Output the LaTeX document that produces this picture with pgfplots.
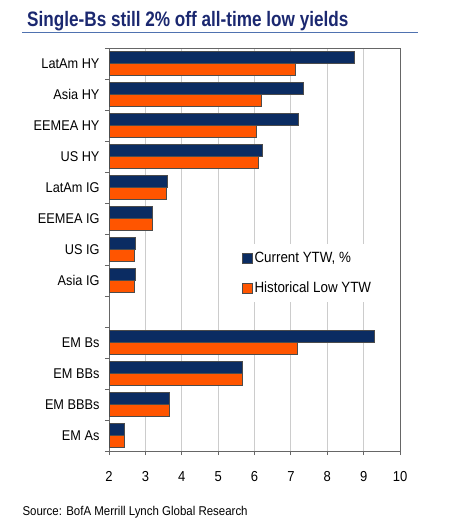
\documentclass[border=0pt]{standalone}
\usepackage{pgfplots}
\pgfplotsset{compat=1.18}
\usepackage{fontspec}
\setmainfont{Liberation Sans}[FakeStretch=0.9]
\newfontfamily\titlefont{Liberation Sans}[FakeStretch=0.82]
\definecolor{navy}{HTML}{0B2C62}
\definecolor{orng}{HTML}{FF5500}
\definecolor{titleblue}{HTML}{1B2870}
\definecolor{ruleblue}{HTML}{4F72B0}
\pgfplotsset{sqlegend/.style={legend image code/.code={\draw[##1,draw=black!70] (0bp,-5bp) rectangle (10bp,5bp);}}}
\begin{document}
\begin{tikzpicture}
\path[use as bounding box] (0,0) rectangle (460bp,-526bp);
\node[anchor=base west, inner sep=0, text=titleblue, font=\titlefont\bfseries\fontsize{21}{24}\selectfont] at (27bp,-26.7bp) {Single-Bs still 2\% off all-time low yields};
\draw[ruleblue, line width=1bp] (22bp,-32.3bp) -- (418bp,-32.3bp);
\node[anchor=base west, inner sep=0, font=\fontsize{12.8}{15}\selectfont] at (22.3bp,-515bp) {Source: BofA Merrill Lynch Global Research};
\begin{axis}[
  at={(109bp,-451bp)}, anchor=south west,
  scale only axis, width=291bp, height=403bp,
  xbar, bar width=12bp,
  xmin=2, xmax=10, ymin=-0.5, ymax=12.5,
  xtick={2,...,10},
  ytick={-0.5,0.5,...,12.5},
  yticklabels={},
  extra y ticks={0,1,2,3,5,6,7,8,9,10,11,12},
  extra y tick labels={EM As, EM BBBs, EM BBs, EM Bs, Asia IG, US IG, EEMEA IG, LatAm IG, US HY, EEMEA HY, Asia HY, LatAm HY},
  extra y tick style={major tick length=0pt, yticklabel style={font=\fontsize{14.2}{16}\selectfont, xshift=-6bp}},
  tick align=outside, tick pos=left,
  major tick length=4bp,
  xmajorgrids, grid style={gray!40, line width=0.8bp},
  axis line style={black!60, line width=0.8bp},
  tick style={black!60, line width=0.8bp},
  /pgf/number format/assume math mode=true,
  xticklabel style={font=\fontsize{14.5}{16}\selectfont, yshift=-13bp},
  legend style={at={(0.45,0.514)}, anchor=north west, draw=none, fill=white,
    font=\fontsize{14.9}{17}\selectfont, row sep=14bp, inner xsep=2bp, inner ysep=6bp},
  legend cell align=left,
]
\addplot[fill=navy, draw=black!70, bar shift=6bp, sqlegend] coordinates {
(8.73,12) (7.33,11) (7.21,10) (6.22,9) (3.59,8) (3.20,7) (2.71,6) (2.71,5)
(9.28,3) (5.67,2) (3.66,1) (2.43,0)};
\addlegendentry{Current YTW, \%}
\addplot[fill=orng, draw=black!70, bar shift=-6bp, sqlegend] coordinates {
(7.13,12) (6.18,11) (6.05,10) (6.11,9) (3.58,8) (3.19,7) (2.70,6) (2.70,5)
(7.17,3) (5.67,2) (3.66,1) (2.43,0)};
\addlegendentry{Historical Low YTW}
\end{axis}
\end{tikzpicture}
\end{document}
